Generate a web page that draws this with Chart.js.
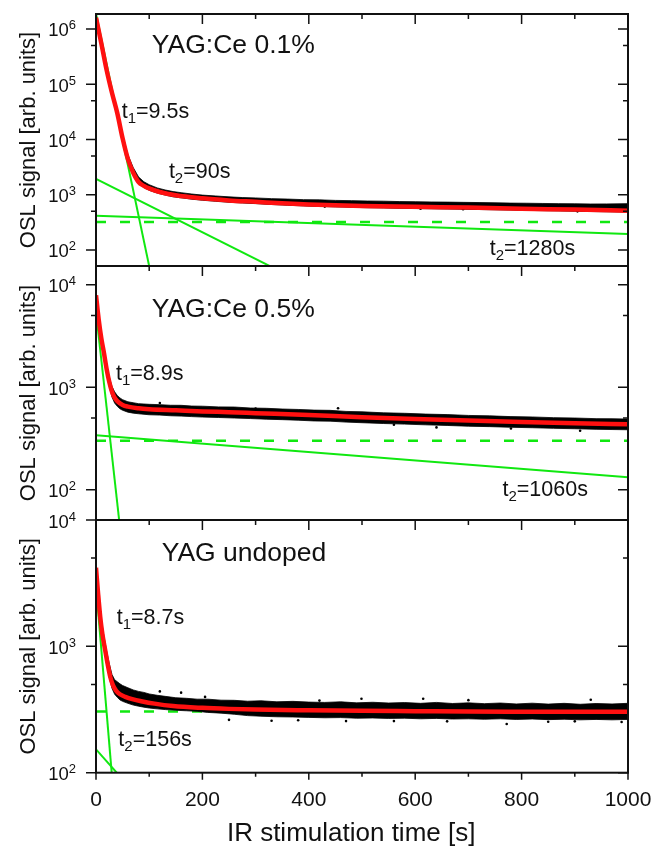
<!DOCTYPE html>
<html>
<head>
<meta charset="utf-8">
<script src="https://cdn.jsdelivr.net/npm/chart.js@4.4.1/dist/chart.umd.min.js"></script>
<style>
  html, body { margin: 0; padding: 0; background: #fff; }
  #wrap { position: relative; width: 654px; height: 847px; }
  #wrap canvas { position: absolute; left: 0; top: 0; }
</style>
</head>
<body>
<div id="wrap">
  <canvas id="p1" width="654" height="847"></canvas>
  <canvas id="p2" width="654" height="847"></canvas>
  <canvas id="p3" width="654" height="847"></canvas>
</div>
<script>
// ---- shared axis ticks ----
const xMajorTicks = [0, 200, 400, 600, 800, 1000];
const xMinorTicks = [100, 300, 500, 700, 900];
const constT = [0, 1000];

// ---- panel 1: YAG:Ce 0.1% ----
const p1YMajor = [1e2, 1e3, 1e4, 1e5, 1e6];
const p1YMinor = [5e2, 5e3, 5e4, 5e5];
const p1FitT = [0, 10, 20, 30, 40, 50, 60, 70, 80, 90, 100, 120, 150, 200, 250, 300, 350, 400, 500, 600, 700, 800, 900, 1000];
const p1Fit  = [1.6e6, 5.5e5, 1.8e5, 7.0e4, 3.0e4, 1.05e4, 4.4e3, 2.5e3, 1.7e3, 1.45e3, 1.3e3, 1.12e3, 975, 860, 790, 745, 700, 668, 628, 603, 585, 560, 538, 515];
const p1BandT  = [0, 10, 20, 30, 40, 50, 60, 70, 80, 90, 100, 115, 130, 145, 160, 180, 200, 225, 250, 275, 300, 330, 360, 390, 420, 450, 480, 510, 540, 570, 600, 630, 660, 690, 720, 750, 780, 810, 840, 870, 900, 930, 960, 1000];
const p1BandHi = [1.65e6, 5.8e5, 1.95e5, 7.6e4, 3.3e4, 1.2e4, 5.3e3, 3.1e3, 2.1e3, 1.72e3, 1.52e3, 1.33e3, 1.22e3, 1.14e3, 1.09e3, 1.03e3, 985, 950, 915, 890, 875, 850, 835, 815, 808, 790, 782, 770, 765, 752, 748, 740, 735, 728, 722, 715, 705, 702, 695, 690, 686, 680, 682, 690];
const p1BandLo = [1.5e6, 5.1e5, 1.65e5, 6.4e4, 2.7e4, 9.5e3, 4.0e3, 2.3e3, 1.58e3, 1.35e3, 1.2e3, 1.07e3, 985, 915, 880, 830, 795, 760, 730, 710, 690, 665, 645, 628, 615, 603, 594, 582, 577, 568, 562, 557, 551, 547, 540, 534, 527, 521, 515, 510, 503, 497, 492, 485];
const p1DotsT = [430, 610, 690, 905];
const p1Dots  = [610, 560, 545, 500];
const p1FastT = [0, 100];   const p1Fast = [1.9e6, 51];
const p1SlowT = [0, 327];   const p1Slow = [1930, 51];
const p1LongT = [0, 1000];  const p1Long = [418, 195];
const p1Const = [320, 320];

// ---- panel 2: YAG:Ce 0.5% ----
const p2YMajor = [1e2, 1e3, 1e4];
const p2YMinor = [5e2, 5e3];
const p2FitT = [0, 5, 10, 15, 20, 25, 30, 35, 40, 50, 60, 80, 100, 150, 200, 250, 300, 400, 500, 600, 700, 800, 900, 1000];
const p2Fit  = [7900, 4600, 3000, 2150, 1500, 1120, 900, 790, 730, 670, 645, 622, 610, 595, 580, 570, 558, 535, 510, 490, 473, 458, 445, 434];
const p2BandT  = [0, 5, 10, 15, 20, 25, 30, 35, 40, 45, 50, 60, 70, 80, 100, 120, 140, 160, 180, 200, 230, 260, 290, 320, 350, 380, 410, 440, 470, 500, 540, 580, 620, 660, 700, 740, 780, 820, 860, 900, 940, 970, 1000];
const p2BandHi = [8100, 4800, 3200, 2300, 1640, 1250, 1020, 900, 830, 785, 755, 720, 705, 690, 680, 675, 666, 665, 654, 652, 642, 640, 626, 622, 612, 606, 597, 594, 580, 575, 562, 556, 546, 540, 530, 525, 516, 512, 504, 500, 493, 492, 488];
const p2BandLo = [7700, 4400, 2800, 2000, 1380, 1010, 800, 700, 650, 615, 595, 570, 558, 550, 538, 534, 526, 522, 516, 511, 506, 500, 494, 487, 482, 476, 468, 466, 456, 450, 442, 436, 429, 423, 416, 412, 406, 402, 397, 393, 388, 386, 384];
const p2DotsT = [455, 910, 300, 640, 120, 780, 560];
const p2Dots  = [622, 375, 620, 405, 700, 395, 430];
const p2FastT = [0, 43.5];  const p2Fast = [5400, 50.6];
const p2LongT = [0, 1000];  const p2Long = [340, 132];
const p2Const = [300, 300];

// ---- panel 3: YAG undoped ----
const p3YMajor = [1e2, 1e3, 1e4];
const p3YMinor = [5e2, 5e3];
const p3FitT = [0, 4, 8, 12, 17, 22, 27, 32, 38, 45, 55, 70, 85, 110, 145, 200, 250, 300, 400, 500, 600, 700, 800, 900, 1000];
const p3Fit  = [4190, 2600, 1700, 1250, 946, 720, 570, 490, 445, 418, 398, 380, 368, 352, 337, 326, 320, 316, 312, 309, 307, 305, 304, 303, 303];
const p3BandT  = [0, 5, 10, 15, 20, 25, 30, 35, 40, 45, 50, 60, 70, 80, 90, 100, 115, 130, 150, 170, 190, 210, 235, 260, 285, 310, 340, 370, 400, 430, 460, 490, 520, 550, 580, 610, 640, 670, 700, 730, 760, 790, 820, 850, 880, 910, 940, 970, 1000];
const p3BandHi = [4300, 2550, 1620, 1200, 920, 730, 600, 545, 525, 505, 490, 470, 452, 440, 432, 420, 410, 402, 392, 388, 382, 382, 375, 374, 368, 371, 364, 367, 362, 360, 364, 357, 361, 356, 359, 354, 360, 353, 357, 352, 356, 350, 355, 349, 354, 348, 353, 350, 354];
const p3BandLo = [4050, 2200, 1320, 960, 720, 565, 465, 418, 395, 377, 367, 354, 343, 336, 330, 325, 320, 316, 312, 309, 306, 300, 296, 290, 283, 280, 277, 276, 274, 272, 273, 270, 271, 269, 270, 267, 269, 266, 267, 265, 267, 264, 266, 263, 265, 262, 264, 262, 264];
const p3DotsT = [160, 330, 499, 615, 772, 988, 250, 420, 560, 700, 850, 930, 120, 380, 660, 900, 205, 470];
const p3Dots  = [430, 258, 385, 385, 243, 252, 262, 372, 256, 375, 253, 378, 440, 260, 255, 255, 398, 256];
const p3FastT = [0, 29.5];  const p3Fast = [3000, 100];
const p3SlowT = [0, 39];    const p3Slow = [153, 100];
const p3Const = [305, 305];

// ---- styling ----
const FONT = '"Liberation Sans", Arial, sans-serif';
const INK = '#111';
const RED = '#ff1010';
const GREEN = '#10e810';

const pts = (ts, vs) => ts.map((t, i) => ({ x: t, y: vs[i] }));

const framePlugin = {
  id: 'frame',
  afterDatasetsDraw(chart, args, o) {
    const { ctx, chartArea: a, scales: { x, y } } = chart;
    ctx.save();
    ctx.strokeStyle = INK;
    ctx.lineWidth = 2;
    ctx.strokeRect(a.left, a.top, a.right - a.left, a.bottom - a.top);

    ctx.lineWidth = 1.5;
    ctx.beginPath();
    // x ticks: top edge inward
    xMajorTicks.forEach(v => { const p = x.getPixelForValue(v); ctx.moveTo(p, a.top); ctx.lineTo(p, a.top + 10); });
    xMinorTicks.forEach(v => { const p = x.getPixelForValue(v); ctx.moveTo(p, a.top); ctx.lineTo(p, a.top + 5); });
    if (o.bottomTicks) {
      xMajorTicks.forEach(v => { const p = x.getPixelForValue(v); ctx.moveTo(p, a.bottom); ctx.lineTo(p, a.bottom + 7); });
      xMinorTicks.forEach(v => { const p = x.getPixelForValue(v); ctx.moveTo(p, a.bottom); ctx.lineTo(p, a.bottom + 4); });
    }
    // y ticks: left outward, right inward
    o.yMajor.forEach(v => {
      const p = y.getPixelForValue(v);
      ctx.moveTo(a.left - 10, p); ctx.lineTo(a.left, p);
      ctx.moveTo(a.right - 10, p); ctx.lineTo(a.right, p);
    });
    o.yMinor.forEach(v => {
      const p = y.getPixelForValue(v);
      ctx.moveTo(a.left - 5, p); ctx.lineTo(a.left, p);
      ctx.moveTo(a.right - 5, p); ctx.lineTo(a.right, p);
    });
    ctx.stroke();

    // y tick labels as 10 with superscript exponent
    ctx.fillStyle = INK;
    ctx.textAlign = 'left';
    ctx.textBaseline = 'alphabetic';
    o.yMajor.forEach(v => {
      const p = y.getPixelForValue(v);
      const e = String(Math.round(Math.log10(v)));
      ctx.font = '13px ' + FONT;
      const we = ctx.measureText(e).width;
      ctx.fillText(e, a.left - 20 - we, p + 0.5);
      ctx.font = '18.5px ' + FONT;
      const wb = ctx.measureText('10').width;
      ctx.fillText('10', a.left - 20 - we - wb, p + 7.5);
    });

    // annotations
    o.notes.forEach(n => {
      let px = x.getPixelForValue(n.t);
      const py = y.getPixelForValue(n.v);
      ctx.font = n.size + 'px ' + FONT;
      ctx.fillText(n.text, px, py);
      px += ctx.measureText(n.text).width;
      if (n.sub) {
        ctx.font = Math.round(n.size * 0.68) + 'px ' + FONT;
        ctx.fillText(n.sub, px, py + 5);
        px += ctx.measureText(n.sub).width;
        ctx.font = n.size + 'px ' + FONT;
        ctx.fillText(n.rest, px, py);
      }
    });
    ctx.restore();
  }
};

function panel(id, p) {
  const green = (ts, vs) => ({ data: pts(ts, vs), borderColor: GREEN, borderWidth: 2, order: 2 });
  const datasets = [
    { data: pts(p.fitT, p.fit), borderColor: RED, borderWidth: 4.5, cubicInterpolationMode: 'monotone', order: 0 },
    { data: pts(p.bandT, p.bandHi), borderColor: '#000', backgroundColor: '#000', borderWidth: 0.8, fill: '+1', order: 1 },
    { data: pts(p.bandT, p.bandLo), borderColor: '#000', borderWidth: 0.8, fill: false, order: 1 },
    { data: pts(p.dotsT, p.dots), showLine: false, pointRadius: 1.3, backgroundColor: '#000', borderWidth: 0, order: 1 },
    ...p.comps.map(c => green(c[0], c[1])),
    { data: pts(constT, p.constV), borderColor: GREEN, borderWidth: 2.5, borderDash: [10, 14], order: 2 }
  ];
  return new Chart(document.getElementById(id), {
    type: 'line',
    data: { datasets },
    options: {
      responsive: false,
      animation: false,
      events: [],
      devicePixelRatio: 1,
      layout: { padding: { left: 0, right: 26, top: p.top, bottom: p.bottom } },
      elements: { point: { radius: 0 }, line: { tension: 0 } },
      plugins: {
        legend: { display: false },
        tooltip: { enabled: false },
        frame: { yMajor: p.yMajor, yMinor: p.yMinor, notes: p.notes, bottomTicks: p.showX }
      },
      scales: {
        x: {
          type: 'linear', min: 0, max: 1000,
          grid: { display: false, drawTicks: false },
          border: { display: false },
          ticks: { display: p.showX, stepSize: 200, maxRotation: 0, padding: 15, color: INK,
                   font: { family: FONT, size: 21 }, callback: v => String(v) },
          title: { display: p.showX, text: 'IR stimulation time [s]   ', color: INK, padding: 0, font: { family: FONT, size: 26, lineHeight: 1 } },
          afterFit(s) { s.height = p.showX ? 74.3 : 0; s.paddingLeft = 0; s.paddingRight = 0; }
        },
        y: {
          type: 'logarithmic', min: p.yMin, max: p.yMax,
          grid: { display: false, drawTicks: false },
          border: { display: false },
          ticks: { display: false },
          title: { display: true, text: 'OSL signal [arb. units]', color: INK, padding: { top: 18, bottom: 0 }, font: { family: FONT, size: 22, lineHeight: 1 } },
          afterFit(s) { s.width = 96; s.paddingTop = 0; s.paddingBottom = 0; }
        }
      }
    },
    plugins: [framePlugin]
  });
}

panel('p1', {
  top: 14, bottom: 581, yMin: 51.3, yMax: 1.868e6, showX: false,
  yMajor: p1YMajor, yMinor: p1YMinor,
  fitT: p1FitT, fit: p1Fit, bandT: p1BandT, bandHi: p1BandHi, bandLo: p1BandLo,
  dotsT: p1DotsT, dots: p1Dots,
  comps: [[p1FastT, p1Fast], [p1SlowT, p1Slow], [p1LongT, p1Long]], constV: p1Const,
  notes: [
    { text: 'YAG:Ce 0.1%', t: 105, v: 3.63e5, size: 26.5 },
    { text: 't', sub: '1', rest: '=9.5s', t: 48.3, v: 2.42e4, size: 21.5 },
    { text: 't', sub: '2', rest: '=90s', t: 137, v: 1987, size: 21.5 },
    { text: 't', sub: '2', rest: '=1280s', t: 740, v: 81, size: 21.5 }
  ]
});

panel('p2', {
  top: 266, bottom: 327, yMin: 50.6, yMax: 1.52e4, showX: false,
  yMajor: p2YMajor, yMinor: p2YMinor,
  fitT: p2FitT, fit: p2Fit, bandT: p2BandT, bandHi: p2BandHi, bandLo: p2BandLo,
  dotsT: p2DotsT, dots: p2Dots,
  comps: [[p2FastT, p2Fast], [p2LongT, p2Long]], constV: p2Const,
  notes: [
    { text: 'YAG:Ce 0.5%', t: 104.7, v: 4840, size: 26.5 },
    { text: 't', sub: '1', rest: '=8.9s', t: 37.6, v: 1167, size: 21.5 },
    { text: 't', sub: '2', rest: '=1060s', t: 764, v: 86.8, size: 21.5 }
  ]
});

panel('p3', {
  top: 520, bottom: 0, yMin: 100, yMax: 10000, showX: true,
  yMajor: p3YMajor, yMinor: p3YMinor,
  fitT: p3FitT, fit: p3Fit, bandT: p3BandT, bandHi: p3BandHi, bandLo: p3BandLo,
  dotsT: p3DotsT, dots: p3Dots,
  comps: [[p3FastT, p3Fast], [p3SlowT, p3Slow]], constV: p3Const,
  notes: [
    { text: 'YAG undoped', t: 123.5, v: 4730, size: 26.5 },
    { text: 't', sub: '1', rest: '=8.7s', t: 38.9, v: 1493, size: 21.5 },
    { text: 't', sub: '2', rest: '=156s', t: 42, v: 164, size: 21.5 }
  ]
});
</script>
</body>
</html>
